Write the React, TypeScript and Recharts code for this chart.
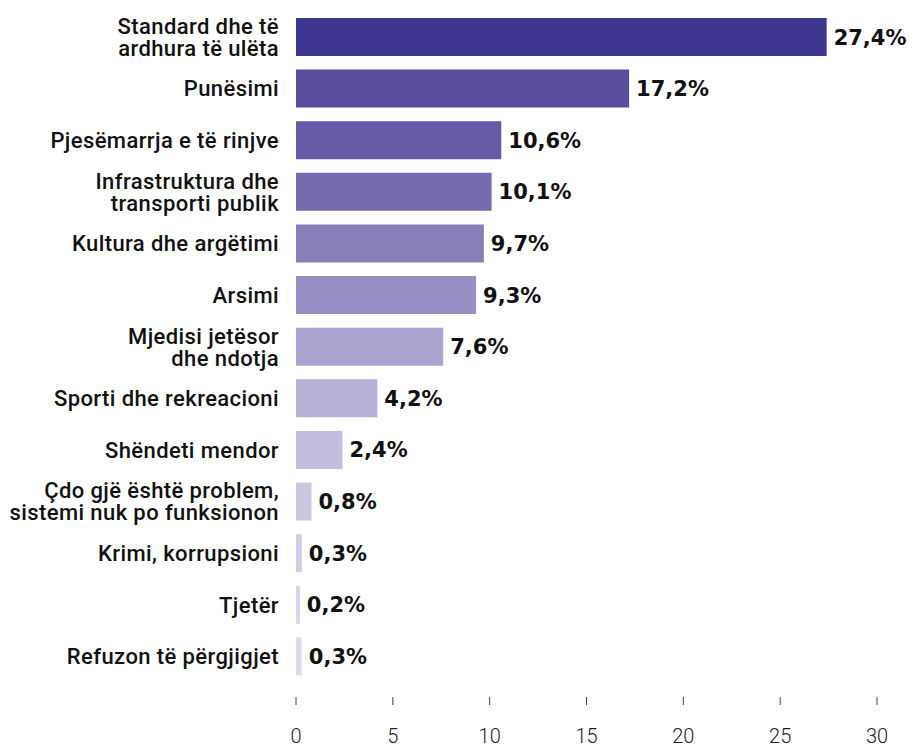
import React from "react";
import { BarChart, Bar, XAxis, YAxis, Cell, LabelList } from "recharts";

const categories = [
  "Standard dhe të\nardhura të ulëta",
  "Punësimi",
  "Pjesëmarrja e të rinjve",
  "Infrastruktura dhe\ntransporti publik",
  "Kultura dhe argëtimi",
  "Arsimi",
  "Mjedisi jetësor\ndhe ndotja",
  "Sporti dhe rekreacioni",
  "Shëndeti mendor",
  "Çdo gjë është problem,\nsistemi nuk po funksionon",
  "Krimi, korrupsioni",
  "Tjetër",
  "Refuzon të përgjigjet",
];
const values = [27.4, 17.2, 10.6, 10.1, 9.7, 9.3, 7.6, 4.2, 2.4, 0.8, 0.3, 0.2, 0.3];
const xTicks = [0, 5, 10, 15, 20, 25, 30];
const palette = [
  "#3d3590",
  "#584d9d",
  "#665ba7",
  "#756cb0",
  "#877eba",
  "#9890c5",
  "#aba4d1",
  "#b7b1d7",
  "#c2bdde",
  "#cbc7e3",
  "#d0cde6",
  "#d6d3ea",
  "#dcd9ee",
];

const data = categories.map((c, i) => ({ category: c, value: values[i] }));

const YTick = (props: any) => {
  const { x, y, payload } = props;
  const lines = String(payload.value).split("\n");
  return (
    <g>
      {lines.map((l: string, i: number) => (
        <text
          key={i}
          x={x - 17}
          y={y + 8 + (i - (lines.length - 1) / 2) * 22}
          textAnchor="end"
          fontFamily="Roboto"
          fontWeight={500}
          fontSize={22}
          letterSpacing={0.4}
          fill="#111"
        >
          {l}
        </text>
      ))}
    </g>
  );
};

const XTick = (props: any) => {
  const { x, y, payload } = props;
  return (
    <g>
      <line x1={x} x2={x} y1={y + 15} y2={y + 23} stroke="#444" strokeWidth={1} />
      <text
        x={x}
        y={y + 61}
        textAnchor="middle"
        fontFamily="Roboto"
        fontWeight={300}
        fontSize={20}
        fill="#222"
      >
        {payload.value}
      </text>
    </g>
  );
};

const ValueLabel = (props: any) => {
  const { x, y, width, height, value } = props;
  return (
    <text
      x={x + width + 7}
      y={y + height / 2 + 7.5}
      fontFamily="DejaVu Sans"
      fontWeight={700}
      fontSize={21}
      fill="#111"
    >
      {Number(value).toFixed(1).replace(".", ",")}%
    </text>
  );
};

export default function App() {
  return (
    <BarChart
      width={909}
      height={739}
      data={data}
      layout="vertical"
      margin={{ top: 3, right: 40, bottom: 5, left: 0 }}
    >
      <XAxis
        type="number"
        domain={[0, 30]}
        ticks={xTicks}
        axisLine={false}
        tickLine={false}
        tickSize={0}
        tickMargin={0}
        height={60}
        tick={<XTick />}
        interval={0}
      />
      <YAxis
        type="category"
        dataKey="category"
        width={288}
        axisLine={false}
        tickLine={false}
        tickSize={0}
        tickMargin={0}
        tick={<YTick />}
        interval={0}
      />
      <Bar dataKey="value" barSize={38} isAnimationActive={false}>
        {data.map((d, i) => (
          <Cell key={i} fill={palette[i]} />
        ))}
        <LabelList dataKey="value" content={<ValueLabel />} />
      </Bar>
    </BarChart>
  );
}
